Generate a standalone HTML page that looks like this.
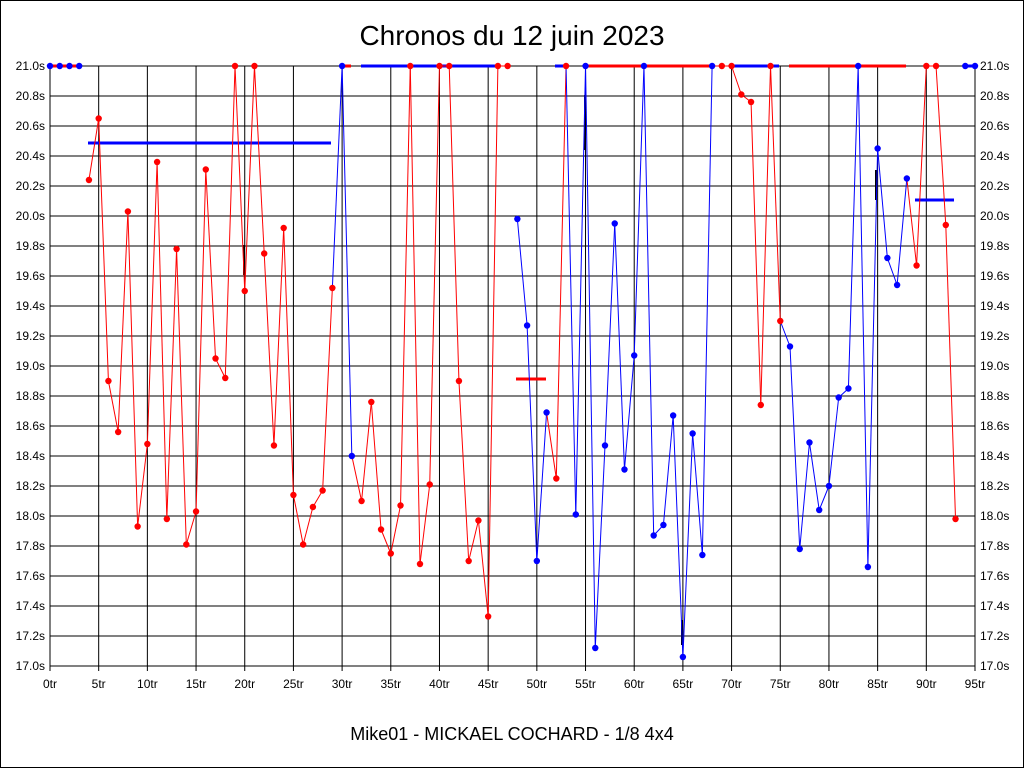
<!DOCTYPE html>
<html><head><meta charset="utf-8"><style>
html,body{margin:0;padding:0;background:#fff;}
svg{display:block;font-family:"Liberation Sans",sans-serif;}
</style></head><body>
<svg id="s" width="1024" height="768" viewBox="0 0 1024 768" xmlns="http://www.w3.org/2000/svg">
<rect x="0.5" y="0.5" width="1023" height="767" fill="#fff" stroke="#000"/>
<text x="512" y="45" font-size="28" text-anchor="middle">Chronos du 12 juin 2023</text>
<text x="512" y="740" font-size="18" text-anchor="middle">Mike01 - MICKAEL COCHARD - 1/8 4x4</text>
<g id="grid"></g>
<g id="data"></g>
</svg>
<script>
var g=document.getElementById('grid'),d=document.getElementById('data');
var NS='http://www.w3.org/2000/svg';
function el(p,t,a,txt){var e=document.createElementNS(NS,t);for(var k in a)e.setAttribute(k,a[k]);if(txt!=null)e.textContent=txt;p.appendChild(e);return e;}
var X0=50,X1=975,Y0=66,Y1=666;
function X(i){return X0+(X1-X0)*i/95;}
function Y(v){return Y0+(21-v)*150;}
for(var k=0;k<=20;k++){var v=17+k*0.2,y=Y(v);
el(g,'line',{x1:X0,x2:X1,y1:y,y2:y,stroke:'#000','stroke-width':1});
el(g,'text',{x:45,y:y+4,'font-size':12,'text-anchor':'end'},v.toFixed(1)+'s');
el(g,'text',{x:980,y:y+4,'font-size':12},v.toFixed(1)+'s');}
for(var t=0;t<=95;t+=5){var x=X(t);
el(g,'line',{x1:x,x2:x,y1:Y0,y2:Y1,stroke:'#000'});
el(g,'line',{x1:x,x2:x,y1:Y1,y2:Y1+5,stroke:'#000'});
el(g,'text',{x:x,y:688,'font-size':12,'text-anchor':'middle'},t+'tr');}
el(g,'rect',{x:X0,y:Y0,width:X1-X0,height:Y1-Y0,fill:'none',stroke:'#000'});
var B='#00f',R='#f00';
var v=[21,21,21,21,20.24,20.65,18.9,18.56,20.03,17.93,18.48,20.36,17.98,19.78,17.81,18.03,20.31,19.05,18.92,21,19.5,21,19.75,18.47,19.92,18.14,17.81,18.06,18.17,19.52,21,18.4,18.1,18.76,17.91,17.75,18.07,21,17.68,18.21,21,21,18.9,17.7,17.97,17.33,21,21,19.98,19.27,17.7,18.69,18.25,21,18.01,21,17.12,18.47,19.95,18.31,19.07,21,17.87,17.94,18.67,17.06,18.55,17.74,21,21,21,20.81,20.76,18.74,21,19.3,19.13,17.78,18.49,18.04,18.2,18.79,18.85,21,17.66,20.45,19.72,19.54,20.25,19.67,21,21,19.94,17.98,21,21];
function col(i){if(i<=3)return B;if(i<=29)return R;if(i<=31)return B;if(i<=47)return R;if(i<=51)return B;if(i<=53)return R;if(i<=68)return B;if(i<=75)return R;if(i<=88)return B;if(i<=93)return R;return B;}
[[50,79,R],[341,351,R],[361,497,B],[555,565,B],[585,711,R],[730,779,B],[789,906,R],[964,975,B]].forEach(function(a){el(d,'line',{x1:a[0],x2:a[1],y1:66,y2:66,stroke:a[2],'stroke-width':3});});
el(d,'line',{x1:88,x2:331,y1:143,y2:143,stroke:B,'stroke-width':3});
el(d,'line',{x1:516,x2:546,y1:379,y2:379,stroke:R,'stroke-width':3});
el(d,'line',{x1:915,x2:954,y1:200,y2:200,stroke:B,'stroke-width':3});
[[244,245,275],[585,95,150],[682,620,645],[876,170,200]].forEach(function(a){el(d,'line',{x1:a[0],x2:a[0],y1:a[1],y2:a[2],stroke:'#000','stroke-width':2});});
var skip={0:1,1:1,2:1,3:1,47:1,93:1};
for(var i=0;i<95;i++){if(skip[i])continue;
el(d,'line',{x1:X(i),y1:Y(v[i]),x2:X(i+1),y2:Y(v[i+1]),stroke:col(i+1),'stroke-width':1});}
for(var i=0;i<96;i++)el(d,'circle',{cx:X(i),cy:Y(v[i]),r:3.2,fill:col(i)});
</script>
</body></html>
